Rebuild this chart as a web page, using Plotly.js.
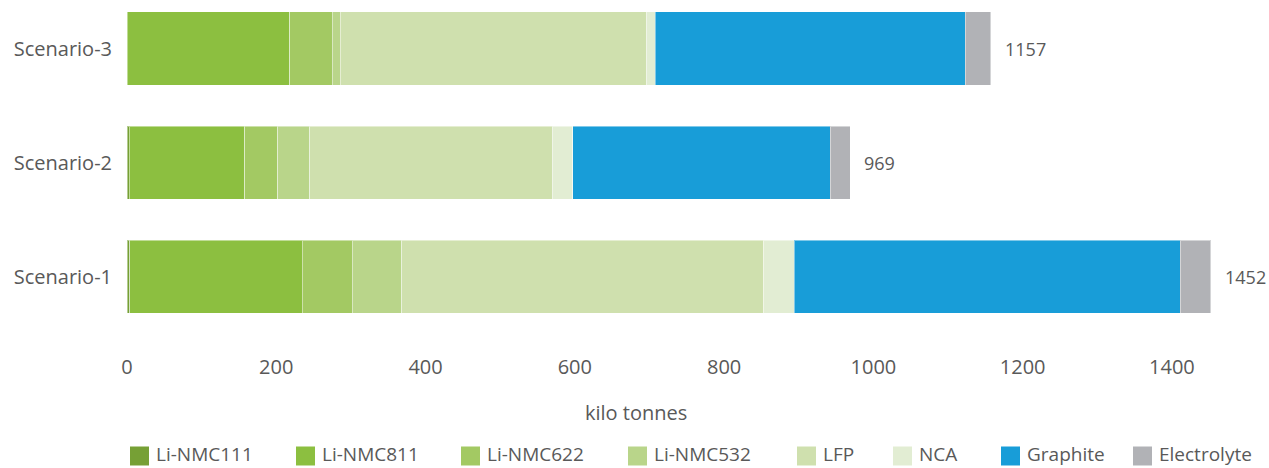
<!DOCTYPE html>
<html>
<head>
<meta charset="utf-8">
<script src="https://cdn.plot.ly/plotly-3.0.1.min.js"></script>
<style>html,body{margin:0;padding:0;background:#fff;}#chart{width:1269px;height:468px;}</style>
</head>
<body>
<div id="chart"></div>
<script>
var scenarios = ["Scenario-1", "Scenario-2", "Scenario-3"];
var seriesNames = ["Li-NMC111", "Li-NMC811", "Li-NMC622", "Li-NMC532", "LFP", "NCA", "Graphite", "Electrolyte"];
var nmc111 = [4, 3, 0];
var nmc811 = [231, 155, 218];
var nmc622 = [67, 44, 57];
var nmc532 = [66, 43, 11];
var lfp = [485, 325, 410];
var nca = [41, 27, 12];
var graphite = [517, 345, 415];
var electrolyte = [41, 27, 34];
var totals = [1452, 969, 1157];
var xTicks = [0, 200, 400, 600, 800, 1000, 1200, 1400];

var seriesValues = [nmc111, nmc811, nmc622, nmc532, lfp, nca, graphite, electrolyte];
var colors = ["#76a035", "#8cbf40", "#a3c963", "#b9d58a", "#cfe0ae", "#e2edd3", "#189dd8", "#b1b2b6"];

var FONT = "Open Sans, sans-serif";
var TXT = "#595959";
var W = 1269, H = 468;
var M = { l: 127, r: 9, t: 0, b: 123 };
var PW = W - M.l - M.r, PH = H - M.t - M.b;
function px2x(px) { return (px - M.l) / PW; }
function py2y(py) { return (M.t + PH - py) / PH; }

var traces = seriesNames.map(function (name, i) {
  return {
    type: "bar",
    orientation: "h",
    name: name,
    y: scenarios,
    x: seriesValues[i],
    marker: { color: colors[i], line: { color: "rgba(255,255,255,0.45)", width: 1 } },
    hoverinfo: "x+name",
    showlegend: false
  };
});

var annotations = scenarios.map(function (s, i) {
  return {
    x: totals[i], y: s, xref: "x", yref: "y",
    text: String(totals[i]), showarrow: false,
    xanchor: "left", xshift: 12,
    font: { family: FONT, size: 18, color: TXT }
  };
});
annotations.push({
  x: px2x(636), y: py2y(412), xref: "paper", yref: "paper",
  text: "kilo tonnes", showarrow: false, xanchor: "center", yanchor: "middle",
  font: { family: FONT, size: 20, color: TXT }
});

// legend drawn as squares + text (layout positions, in pixels)
var legendLeft = [130, 296, 461, 628, 797, 893, 1001, 1133];
var legendY = 454, sq = 19;
var shapes = [];
seriesNames.forEach(function (name, i) {
  shapes.push({
    type: "rect", xref: "paper", yref: "paper",
    x0: px2x(legendLeft[i]), x1: px2x(legendLeft[i] + sq),
    y0: py2y(legendY + 2 + sq / 2), y1: py2y(legendY + 2 - sq / 2),
    fillcolor: colors[i], line: { width: 0 }
  });
  annotations.push({
    x: px2x(legendLeft[i] + sq + 6), y: py2y(legendY), xref: "paper", yref: "paper",
    text: name, showarrow: false, xanchor: "left", yanchor: "middle", borderpad: 0,
    font: { family: FONT, size: 19, color: TXT }
  });
});

var layout = {
  width: W, height: H,
  margin: M,
  paper_bgcolor: "#fff", plot_bgcolor: "#fff",
  barmode: "stack",
  bargap: 0.36,
  showlegend: false,
  xaxis: {
    range: [0, 1518],
    tickvals: xTicks, ticktext: xTicks.map(String),
    showgrid: false, zeroline: false, showline: false, ticks: "",
    tickfont: { family: FONT, size: 20, color: TXT },
    ticklabelstandoff: 8
  },
  yaxis: {
    range: [-0.596, 2.425],
    showgrid: false, zeroline: false, showline: false, ticks: "",
    tickfont: { family: FONT, size: 20, color: TXT },
    ticklabelstandoff: 14
  },
  shapes: shapes,
  annotations: annotations,
  font: { family: FONT, color: TXT }
};

Plotly.newPlot("chart", traces, layout, { displayModeBar: false, staticPlot: true });
</script>
</body>
</html>
